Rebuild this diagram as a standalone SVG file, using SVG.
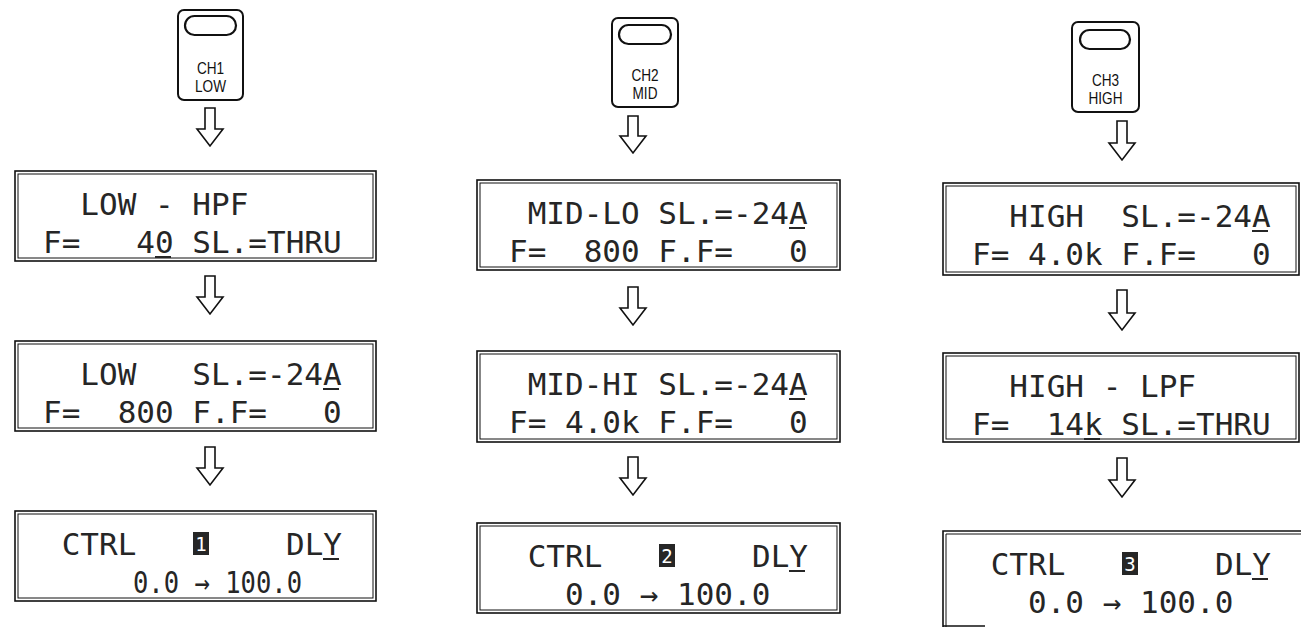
<svg xmlns="http://www.w3.org/2000/svg" width="1301" height="627" viewBox="0 0 1301 627">
<style>
.bg{fill:#fff}
.btn{fill:#fff;stroke:#111;stroke-width:2}
.pill{fill:#fff;stroke:#111;stroke-width:2.2}
.btxt{font-family:"Liberation Sans",Arial,sans-serif;font-size:16px;fill:#111;text-anchor:middle}
.fo{fill:#fff;stroke:#111;stroke-width:1.6}
.fi{fill:none;stroke:#111;stroke-width:1}
.lcd{font-family:"DejaVu Sans Mono","Liberation Mono",monospace;font-size:31px;fill:#262626}
.ul{stroke:#262626;stroke-width:2}
.blk{fill:#262626}
.bdig{font-family:"DejaVu Sans Mono",monospace;font-size:19px;fill:#fff;text-anchor:middle}
.arr{fill:#fff;stroke:#111;stroke-width:1.6;stroke-linejoin:miter}
</style>
<rect class="bg" x="0" y="0" width="1301" height="627"/>

<g id="connectors">
<path class="arr" d="M205,108 H215 V129 H223 L210,146 L197,129 H205 Z"/>
<path class="arr" d="M205,276 H215 V297 H223 L210,314 L197,297 H205 Z"/>
<path class="arr" d="M205,447 H215 V468 H223 L210,485 L197,468 H205 Z"/>
<path class="arr" d="M628,116 H638 V136 H646 L633,153 L620,136 H628 Z"/>
<path class="arr" d="M628,287 H638 V308 H646 L633,325 L620,308 H628 Z"/>
<path class="arr" d="M628,457 H638 V478 H646 L633,495 L620,478 H628 Z"/>
<path class="arr" d="M1117,121 H1127 V143 H1135 L1122,160 L1109,143 H1117 Z"/>
<path class="arr" d="M1117,290 H1127 V313 H1135 L1122,330 L1109,313 H1117 Z"/>
<path class="arr" d="M1117,458 H1127 V480 H1135 L1122,497 L1109,480 H1117 Z"/>
</g>

<!-- Column 1 -->
<g id="btn-ch1">
<rect class="btn" x="178" y="10" width="65" height="90" rx="6"/>
<rect class="pill" x="185" y="16" width="51" height="19" rx="9.5"/>
<text class="btxt" transform="translate(210.5,74) scale(0.85,1)">CH1</text>
<text class="btxt" transform="translate(210.5,92) scale(0.85,1)">LOW</text>
</g>
<g id="lcd-low-hpf">
<rect class="fo" x="15" y="171" width="361" height="90"/>
<rect class="fi" x="18" y="174" width="355" height="84"/>
<text class="lcd" x="43" y="215" xml:space="preserve">  LOW - HPF</text>
<text class="lcd" x="43" y="253" xml:space="preserve">F=   40 SL.=THRU</text>
<line class="ul" x1="155" y1="257" x2="171" y2="257"/>
</g>
<g id="lcd-low">
<rect class="fo" x="15" y="341" width="361" height="90"/>
<rect class="fi" x="18" y="344" width="355" height="84"/>
<text class="lcd" x="43" y="385" xml:space="preserve">  LOW   SL.=-24A</text>
<text class="lcd" x="43" y="423" xml:space="preserve">F=  800 F.F=   0</text>
<line class="ul" x1="323" y1="389" x2="339" y2="389"/>
</g>
<g id="lcd-ctrl1">
<rect class="fo" x="15" y="511" width="361" height="90"/>
<rect class="fi" x="18" y="514" width="355" height="84"/>
<text class="lcd" x="43" y="555" xml:space="preserve"> CTRL</text>
<text class="lcd" x="286" y="555">DLY</text>
<rect class="blk" x="193" y="532" width="16" height="23"/>
<text class="bdig" x="201" y="551">1</text>
<line class="ul" x1="323" y1="559" x2="339" y2="559"/>
<text class="lcd" x="133" y="593" textLength="169" lengthAdjust="spacingAndGlyphs" xml:space="preserve">0.0 → 100.0</text>
</g>

<!-- Column 2 -->
<g id="btn-ch2">
<rect class="btn" x="612" y="18" width="66" height="89" rx="6"/>
<rect class="pill" x="619" y="25" width="52" height="19" rx="9.5"/>
<text class="btxt" transform="translate(645,81) scale(0.85,1)">CH2</text>
<text class="btxt" transform="translate(645,99) scale(0.85,1)">MID</text>
</g>
<g id="lcd-mid-lo">
<rect class="fo" x="477" y="180" width="363" height="90"/>
<rect class="fi" x="480" y="183" width="357" height="84"/>
<text class="lcd" x="509" y="224" xml:space="preserve"> MID-LO SL.=-24A</text>
<text class="lcd" x="509" y="262" xml:space="preserve">F=  800 F.F=   0</text>
<line class="ul" x1="789" y1="228" x2="805" y2="228"/>
</g>
<g id="lcd-mid-hi">
<rect class="fo" x="477" y="351" width="363" height="91"/>
<rect class="fi" x="480" y="354" width="357" height="85"/>
<text class="lcd" x="509" y="395" xml:space="preserve"> MID-HI SL.=-24A</text>
<text class="lcd" x="509" y="433" xml:space="preserve">F= 4.0k F.F=   0</text>
<line class="ul" x1="789" y1="399" x2="805" y2="399"/>
</g>
<g id="lcd-ctrl2">
<rect class="fo" x="477" y="523" width="363" height="90"/>
<rect class="fi" x="480" y="526" width="357" height="84"/>
<text class="lcd" x="509" y="567" xml:space="preserve"> CTRL</text>
<text class="lcd" x="752" y="567">DLY</text>
<rect class="blk" x="659" y="544" width="16" height="23"/>
<text class="bdig" x="667" y="563">2</text>
<line class="ul" x1="789" y1="571" x2="805" y2="571"/>
<text class="lcd" x="565" y="605" xml:space="preserve">0.0 → 100.0</text>
</g>

<!-- Column 3 -->
<g id="btn-ch3">
<rect class="btn" x="1072" y="22" width="67" height="90" rx="6"/>
<rect class="pill" x="1080" y="30" width="50" height="19" rx="9.5"/>
<text class="btxt" transform="translate(1105.5,86) scale(0.85,1)">CH3</text>
<text class="btxt" transform="translate(1105.5,104) scale(0.85,1)">HIGH</text>
</g>
<g id="lcd-high">
<rect class="fo" x="943" y="183" width="356" height="92"/>
<rect class="fi" x="946" y="186" width="350" height="86"/>
<text class="lcd" x="972" y="227" xml:space="preserve">  HIGH  SL.=-24A</text>
<text class="lcd" x="972" y="265" xml:space="preserve">F= 4.0k F.F=   0</text>
<line class="ul" x1="1252" y1="231" x2="1268" y2="231"/>
</g>
<g id="lcd-high-lpf">
<rect class="fo" x="943" y="353" width="356" height="89"/>
<rect class="fi" x="946" y="356" width="350" height="83"/>
<text class="lcd" x="972" y="397" xml:space="preserve">  HIGH - LPF</text>
<text class="lcd" x="972" y="435" xml:space="preserve">F=  14k SL.=THRU</text>
<line class="ul" x1="1084" y1="439" x2="1100" y2="439"/>
</g>
<g id="lcd-ctrl3">
<path class="fi" style="stroke-width:1.6" d="M1301,531 H943 V627"/>
<path class="fi" d="M1301,534 H946 V627"/>
<path class="fi" style="stroke-width:1.6" d="M943,626 H985"/>
<text class="lcd" x="972" y="575" xml:space="preserve"> CTRL</text>
<text class="lcd" x="1215" y="575">DLY</text>
<rect class="blk" x="1122" y="552" width="16" height="23"/>
<text class="bdig" x="1130" y="571">3</text>
<line class="ul" x1="1252" y1="579" x2="1268" y2="579"/>
<text class="lcd" x="1028" y="613" xml:space="preserve">0.0 → 100.0</text>
</g>
</svg>
